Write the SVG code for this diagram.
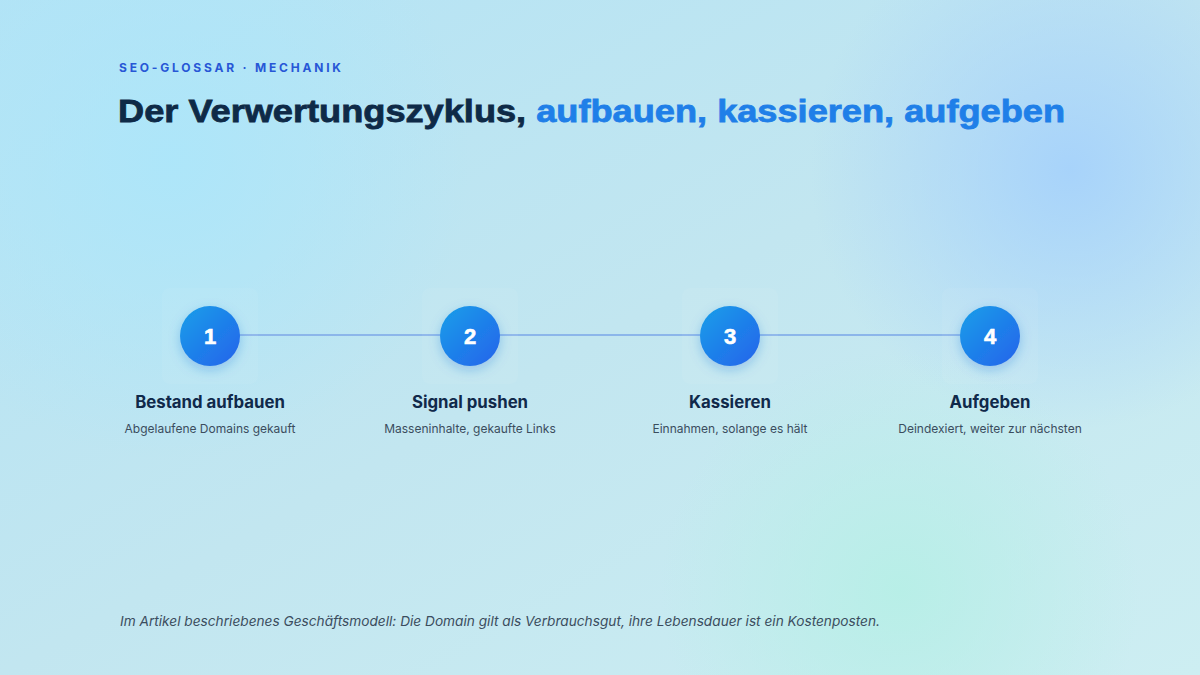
<svg xmlns="http://www.w3.org/2000/svg" width="1200" height="675" viewBox="0 0 1200 675">
<defs>
<linearGradient id="bg" x1="0" y1="0" x2="1" y2="1">
<stop offset="0" stop-color="#b3e3f5"/>
<stop offset="0.5" stop-color="#c2e6f0"/>
<stop offset="1" stop-color="#cdeef2"/>
</linearGradient>
<radialGradient id="blobB" cx="1070" cy="170" r="260" gradientUnits="userSpaceOnUse">
<stop offset="0" stop-color="#a6d2fb" stop-opacity="0.95"/>
<stop offset="1" stop-color="#a6d2fb" stop-opacity="0"/>
</radialGradient>
<radialGradient id="blobC" cx="170" cy="160" r="300" gradientUnits="userSpaceOnUse">
<stop offset="0" stop-color="#ace6fa" stop-opacity="0.9"/>
<stop offset="1" stop-color="#ace6fa" stop-opacity="0"/>
</radialGradient>
<radialGradient id="blobM" cx="900" cy="590" r="240" gradientUnits="userSpaceOnUse">
<stop offset="0" stop-color="#b6efe6" stop-opacity="0.9"/>
<stop offset="1" stop-color="#b6efe6" stop-opacity="0"/>
</radialGradient>
<linearGradient id="circ" x1="0" y1="0" x2="1" y2="1">
<stop offset="0" stop-color="#179fe9"/>
<stop offset="1" stop-color="#2563eb"/>
</linearGradient>
<filter id="sh" x="-50%" y="-50%" width="200%" height="200%">
<feGaussianBlur in="SourceAlpha" stdDeviation="6" result="b"/>
<feOffset in="b" dy="4" result="o"/>
<feFlood flood-color="#1f6fd8" flood-opacity="0.3"/>
<feComposite in2="o" operator="in" result="s"/>
<feMerge><feMergeNode in="s"/><feMergeNode in="SourceGraphic"/></feMerge>
</filter>
</defs>
<style>
.kick{font-family:"Inter","Liberation Sans",sans-serif;font-weight:700;font-size:12px;letter-spacing:2.8px;fill:#2757d6}
.title{font-family:"Liberation Sans","Arial",sans-serif;font-weight:700;font-size:32px;fill:#0e2a47;stroke:#0e2a47;stroke-width:0.8}
.acc{fill:#1f7fe8;stroke:#1f7fe8}
.num{font-family:"Liberation Sans",sans-serif;font-weight:700;font-size:22px;fill:#ffffff;stroke:#ffffff;stroke-width:0.6;text-anchor:middle}
.lab{font-family:"Inter","Liberation Sans",sans-serif;font-weight:700;font-size:16.8px;fill:#10294a;text-anchor:middle}
.sub{font-family:"Inter","Liberation Sans",sans-serif;font-size:12px;fill:#3b4d5e;text-anchor:middle}
.foot{font-family:"Inter","Liberation Sans",sans-serif;font-style:italic;font-size:13.7px;fill:#3b4d5e}
.box{fill:#ffffff;fill-opacity:0.05}
</style>
<rect width="1200" height="675" fill="url(#bg)"/>
<rect width="1200" height="675" fill="url(#blobC)"/>
<rect width="1200" height="675" fill="url(#blobB)"/>
<rect width="1200" height="675" fill="url(#blobM)"/>

<text class="kick" x="119" y="72">SEO-GLOSSAR · MECHANIK</text>
<text class="title" x="118" y="122" textLength="947" lengthAdjust="spacingAndGlyphs">Der Verwertungszyklus, <tspan class="acc">aufbauen, kassieren, aufgeben</tspan></text>

<g id="connectors">
<line x1="210" y1="335" x2="990" y2="335" stroke="#8cb6ea" stroke-width="2"/>
</g>

<g id="step1">
<rect class="box" x="162" y="288" width="96" height="96" rx="8"/>
<circle cx="210" cy="336" r="30" fill="url(#circ)" filter="url(#sh)"/>
<text class="num" x="210" y="344">1</text>
<text class="lab" x="210" y="408">Bestand aufbauen</text>
<text class="sub" x="210" y="433">Abgelaufene Domains gekauft</text>
</g>
<g id="step2">
<rect class="box" x="422" y="288" width="96" height="96" rx="8"/>
<circle cx="470" cy="336" r="30" fill="url(#circ)" filter="url(#sh)"/>
<text class="num" x="470" y="344">2</text>
<text class="lab" x="470" y="408">Signal pushen</text>
<text class="sub" x="470" y="433">Masseninhalte, gekaufte Links</text>
</g>
<g id="step3">
<rect class="box" x="682" y="288" width="96" height="96" rx="8"/>
<circle cx="730" cy="336" r="30" fill="url(#circ)" filter="url(#sh)"/>
<text class="num" x="730" y="344">3</text>
<text class="lab" x="730" y="408">Kassieren</text>
<text class="sub" x="730" y="433">Einnahmen, solange es hält</text>
</g>
<g id="step4">
<rect class="box" x="942" y="288" width="96" height="96" rx="8"/>
<circle cx="990" cy="336" r="30" fill="url(#circ)" filter="url(#sh)"/>
<text class="num" x="990" y="344">4</text>
<text class="lab" x="990" y="408">Aufgeben</text>
<text class="sub" x="990" y="433">Deindexiert, weiter zur nächsten</text>
</g>

<text class="foot" x="120" y="626" textLength="760" lengthAdjust="spacingAndGlyphs">Im Artikel beschriebenes Geschäftsmodell: Die Domain gilt als Verbrauchsgut, ihre Lebensdauer ist ein Kostenposten.</text>
</svg>
